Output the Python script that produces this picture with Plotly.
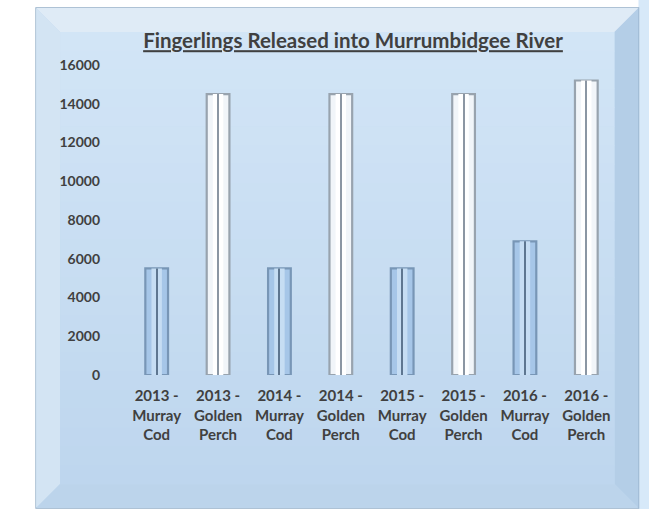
import plotly.graph_objects as go

# ---- data ----
categories = [
    "2013 -<br>Murray<br>Cod", "2013 -<br>Golden<br>Perch",
    "2014 -<br>Murray<br>Cod", "2014 -<br>Golden<br>Perch",
    "2015 -<br>Murray<br>Cod", "2015 -<br>Golden<br>Perch",
    "2016 -<br>Murray<br>Cod", "2016 -<br>Golden<br>Perch",
]
values = [5500, 14500, 5500, 14500, 5500, 14500, 6900, 15200]
y_ticks = [0, 2000, 4000, 6000, 8000, 10000, 12000, 14000, 16000]
title_text = "Fingerlings Released into Murrumbidgee River"

# ---- layout geometry (pixels) ----
W, H = 649, 509
PL, PR, PT, PB = 126, 617.5, 65, 375  # plot area


def px(x):
    return (x - PL) / (PR - PL)


def py(y):
    return (PB - y) / (PB - PT)


is_cod = ["Cod" in c for c in categories]
fill = ["#a6c6e8" if c else "#f1f5f9" for c in is_cod]
edge = ["#7896b6" if c else "#98a3ae" for c in is_cod]
core = ["#c6ddf3" if c else "#ffffff" for c in is_cod]
mid = ["#5e7690" if c else "#8b96a3" for c in is_cod]

fig = go.Figure()
fig.add_trace(go.Bar(x=categories, y=values, width=0.37,
                     marker=dict(color=fill, line=dict(color=edge, width=2.2)),
                     hoverinfo="x+y"))
fig.add_trace(go.Bar(x=categories, y=values, width=0.17,
                     marker=dict(color=core, line=dict(width=0)),
                     hoverinfo="skip"))
fig.add_trace(go.Bar(x=categories, y=values, width=0.018,
                     marker=dict(color=mid, line=dict(width=0)),
                     hoverinfo="skip"))

shapes = []


def mix(c1, c2, t):
    a = [int(c1[i:i + 2], 16) for i in (1, 3, 5)]
    b = [int(c2[i:i + 2], 16) for i in (1, 3, 5)]
    return "#" + "".join(f"{round(a[k] + (b[k] - a[k]) * t):02x}" for k in range(3))


# light strip to the right of the frame
shapes.append(dict(type="rect", xref="paper", yref="paper",
                   x0=px(639), x1=px(W + 2), y0=py(H + 2), y1=py(-2),
                   fillcolor="#d7e9f9", line=dict(width=0), layer="below"))
# frame outer
FL, FR, FT, FB = 36, 639, 8, 508
BV = 24
shapes.append(dict(type="rect", xref="paper", yref="paper",
                   x0=px(FL), x1=px(FR), y0=py(FB), y1=py(FT),
                   fillcolor="#c3daf0", line=dict(color="#94afc8", width=1.5),
                   layer="below"))


def poly(pts, color):
    d = "M " + " L ".join(f"{px(x):.5f},{py(y):.5f}" for x, y in pts) + " Z"
    return dict(type="path", xref="paper", yref="paper", path=d,
                fillcolor=color, line=dict(width=0), layer="below")


# bevels
shapes.append(poly([(FL, FT), (FR, FT), (FR - BV, FT + BV), (FL + BV, FT + BV)], "#dfebf6"))
shapes.append(poly([(FL, FT), (FL + BV, FT + BV), (FL + BV, FB - BV), (FL, FB)], "#d3e4f3"))
shapes.append(poly([(FR, FT), (FR, FB), (FR - BV, FB - BV), (FR - BV, FT + BV)], "#b4cee7"))
shapes.append(poly([(FL, FB), (FL + BV, FB - BV), (FR - BV, FB - BV), (FR, FB)], "#bcd4eb"))
# inner panel with soft vertical shading
n = 24
y_top, y_bot = FT + BV, FB - BV
for i in range(n):
    t = i / (n - 1)
    y0 = y_top + (y_bot - y_top) * i / n
    y1 = y_top + (y_bot - y_top) * (i + 1) / n + 0.6
    shapes.append(dict(type="rect", xref="paper", yref="paper",
                       x0=px(FL + BV), x1=px(FR - BV), y0=py(y1), y1=py(y0),
                       fillcolor=mix("#d2e5f6", "#bed6ee", t),
                       line=dict(width=0), layer="below"))

font_family = "Lato, 'Open Sans', sans-serif"

fig.update_layout(
    width=W, height=H,
    margin=dict(l=PL, r=W - PR, t=PT, b=H - PB, pad=0),
    paper_bgcolor="#ffffff",
    plot_bgcolor="rgba(0,0,0,0)",
    barmode="overlay",
    showlegend=False,
    shapes=shapes,
    font=dict(family=font_family, color="#404040"),
    title=dict(text="<b><u>" + title_text + "</u></b>",
               x=353 / W, xref="container", xanchor="center",
               y=1 - 41 / H, yref="container", yanchor="middle",
               font=dict(size=20.5, color="#404040", family=font_family)),
    xaxis=dict(type="category", categoryorder="array", categoryarray=categories,
               range=[-0.5, len(categories) - 0.5],
               showgrid=False, showline=False, zeroline=False, ticks="",
               tickvals=categories,
               ticktext=[f"<b>{c}</b>" for c in categories],
               tickfont=dict(size=15, color="#404040", family=font_family),
               ticklabelstandoff=10),
    yaxis=dict(range=[0, 16000], tickvals=y_ticks,
               ticktext=[f"<b>{v}</b>" for v in y_ticks],
               showgrid=False, showline=False, zeroline=False, ticks="",
               tickfont=dict(size=14, color="#404040", family=font_family),
               ticklabelstandoff=25),
)

fig.write_html("out.html", config={"displayModeBar": False},
               post_script="document.body.style.margin='0';document.body.style.padding='0';")
